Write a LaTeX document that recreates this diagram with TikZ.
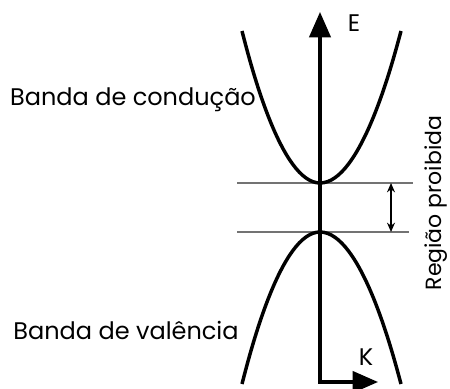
\documentclass[tikz,border=0pt]{standalone}
\usepackage{fontspec}
\setmainfont{Poppins}
\usetikzlibrary{arrows.meta, positioning, calc}

\begin{document}
\begin{tikzpicture}[
  x=0.75pt, y=-0.75pt,
  band/.style={line width=2.6pt},
  axisline/.style={line width=2.3pt, -{Triangle[length=19pt, width=16pt]}},
  levelline/.style={draw=black!55, line width=0.8pt},
  gaparrow/.style={line width=1.1pt, {Stealth[length=7pt, width=6pt]}-{Stealth[length=7pt, width=6pt]}},
  lbl/.style={font=\fontsize{18}{21}\selectfont, inner sep=0pt}
]
  \useasboundingbox (0,0) rectangle (450,389);

  % reference points
  \coordinate (O) at (320,382);
  \coordinate (Etip) at (320,12);
  \coordinate (Ktip) at (378,382);
  \coordinate (cbmin) at (320,183);
  \coordinate (vbmax) at (320,232);
  \coordinate (gaptop) at (391,183);
  \coordinate (gapbot) at (391,232);

  % energy levels
  \draw[levelline] (237,183) -- (cbmin) -- (413,183);
  \draw[levelline] (237,232) -- (vbmax) -- (409,232);

  % bands
  \draw[band] (242,31) parabola bend (cbmin) (401,31);
  \draw[band] (242,384) parabola bend (vbmax) (401,384);

  % axes
  \draw[axisline] (O) -- (Etip);
  \draw[axisline] ([xshift=-1.15pt]O) -- (Ktip);

  % gap
  \draw[gaparrow] (gaptop) -- (gapbot);

  \node[lbl] (E) at (354,23) {E};
  \node[lbl] (K) at (366,357) {K};
  \node[lbl] (cond) at (133,100) {Banda de condução};
  \node[lbl] (val) at (126,330) {Banda de valência};
  \node[lbl, rotate=90, font=\fontsize{16.5}{20}\selectfont] (gap) at (436,203) {Região proibida};
\end{tikzpicture}
\end{document}
